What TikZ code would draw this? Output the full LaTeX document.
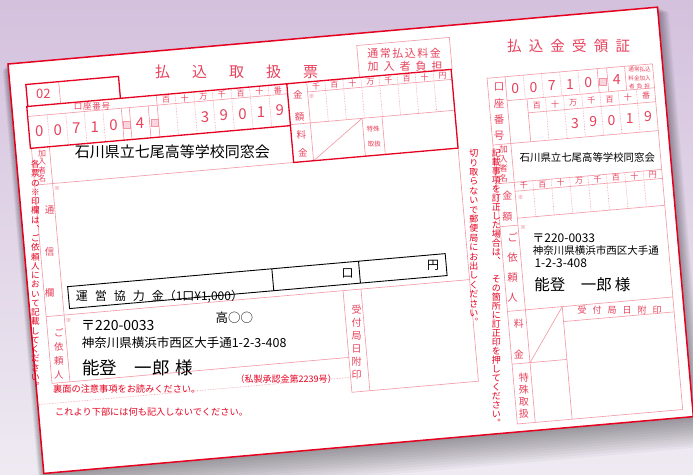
\documentclass[tikz,border=0pt]{standalone}
\usepackage{fontspec}
\setmainfont{Noto Sans CJK JP}
\definecolor{formred}{RGB}{230,0,32}
\definecolor{labred}{RGB}{232,66,92}
\definecolor{linepink}{RGB}{243,150,162}
\definecolor{cellpink}{RGB}{250,212,224}
\definecolor{bgtop}{RGB}{212,193,221}
\definecolor{bgbot}{RGB}{238,234,242}
\newcommand\fsz[1]{\fontsize{#1}{#1}\selectfont}
\def\tatestop{TATESTOP}
\def\tatescan#1{\ifx#1\tatestop\else\hbox to 1em{\hss#1\hss}\expandafter\tatescan\fi}
\newcommand\tategaki[2]{\vbox{\baselineskip=#1\relax\lineskiplimit=-100pt\relax\tatescan#2\tatestop}}
\def\yokoscan#1{\ifx#1\tatestop\else#1\kern\yokogap\relax\expandafter\yokoscan\fi}
\newcommand\yoko[2]{\def\yokogap{#1}\yokoscan#2\tatestop\kern-#1\relax}
\begin{document}
\begin{tikzpicture}
  [x=1pt,y=-1pt,
  lab/.style={text=labred,inner sep=0pt},
  note/.style={text=formred,inner sep=0pt},
  dat/.style={text=black,inner sep=0pt},
  thinline/.style={draw=linepink,line width=0.6pt},
  dotline/.style={draw=linepink,line width=0.6pt,densely dotted},
  boldline/.style={draw=formred,line width=1.3pt},
  cell/.style={fill=cellpink,draw=linepink,line width=0.3pt,minimum size=7pt,inner sep=0pt},
  ]
  \clip (0,0) rectangle (693,474);
  \shade[top color=bgtop,bottom color=bgbot] (0,0) rectangle (693,474);
  \begin{scope}[shift={(8,64)},rotate=5]
    \foreach \s in {1,...,12}
      \fill[black,opacity=0.03] ({-0.5*\s},{0.5*\s}) rectangle ({652+0.9*\s},{411+2.6*\s});
    \fill[white] (0,0) rectangle (652,411);
    \draw[formred,line width=1.5pt] (0,0) rectangle (652,411);

    \draw[thinline] (16,86) -- (16,322) -- (314,322);
    \draw[thinline] (34,86) -- (34,322);
    \draw[thinline] (16,123) -- (276,123);
    \draw[thinline] (16,255) -- (441,255);
    \draw[thinline] (441,123) -- (441,357) -- (314,357) -- (314,255);
    \draw[thinline] (332,255) -- (332,357);
    \draw[dotline] (0,342) -- (314,342);
    \draw[thinline] (349,44) -- (349,12) -- (442,12) -- (442,44);
    \draw[thinline] (49,22) -- (49,44);

    \draw[thinline] (15,54) -- (276,54);
    \foreach \x in {34.6,53.2,71.8,90.4} \draw[dotline] (\x,54) -- (\x,86);
    \foreach \x in {109,117,136} \draw[thinline] (\x,54) -- (\x,86);
    \draw[thinline] (145,44) -- (145,86);
    \foreach \i in {1,...,6} \draw[dotline] ({145+18.71*\i},44) -- ({145+18.71*\i},86);
    \node[cell] (pinkA) at (113,71) {};
    \node[cell] (pinkB) at (140.5,71) {};

    \draw[thinline] (296,44) -- (296,123);
    \draw[thinline] (276,85) -- (441,85);
    \draw[thinline] (296,54) -- (441,54);
    \foreach \i in {1,...,7} \draw[dotline] ({296+18.125*\i},44) -- ({296+18.125*\i},85);
    \draw[thinline] (296,123) -- (348,85);
    \draw[thinline] (348,85) -- (348,123) (368,85) -- (368,123);

    \draw[boldline] (16,44) -- (16,22) -- (109,22) -- (109,44);
    \draw[boldline] (276,86) -- (15,86) -- (15,44) -- (441,44) -- (441,123) -- (276,123) -- (276,44);

    \draw[black,line width=0.9pt] (40,227) rectangle (419,249) (245,227) -- (245,249) (332,227) -- (332,249);

    \draw[thinline] (476,56) rectangle (642,403);
    \draw[thinline] (494,56) -- (494,403);
    \draw[thinline] (476,123) -- (642,123);
    \draw[thinline] (476,162) -- (642,162);
    \draw[thinline] (494,198) -- (642,198);
    \draw[thinline] (476,205) -- (494,205);
    \draw[thinline] (476,290) -- (642,290);
    \draw[thinline] (476,343) -- (531,343);
    \draw[thinline] (531,290) -- (531,403);
    \draw[thinline] (531,305) -- (642,305);
    \draw[thinline] (494,343) -- (531,290);
    \draw[thinline] (494,80) -- (642,80);
    \draw[thinline] (514,94) -- (642,94);
    \foreach \x in {512.3,530.6,548.9,567.2} \draw[dotline] (\x,56) -- (\x,80);
    \foreach \x in {586.5,596,614} \draw[thinline] (\x,56) -- (\x,80);
    \node[cell] (pinkC) at (591.25,69) {};
    \draw[thinline] (514,80) -- (514,123);
    \foreach \i in {1,...,6} \draw[dotline] ({514+18.29*\i},80) -- ({514+18.29*\i},123);
    \draw[thinline] (494,171) -- (642,171);
    \foreach \i in {1,...,7} \draw[dotline] ({494+18.5*\i},162) -- ({494+18.5*\i},198);

    \node[lab,font=\fsz{15}] (title1) at (227,28) {\yoko{22pt}{払込取扱票}};
    \node[lab,font=\fsz{13}] (kubun) at (32.5,33) {02};
    \node[lab,font=\fsz{11}] (futan1) at (395.5,23.5) {\yoko{1.5pt}{通常払込料金}};
    \node[lab,font=\fsz{11}] (futan2) at (395.5,37) {\yoko{5pt}{加入者負担}};
    \node[lab,font=\fsz{8.5}] (koza1) at (80,49.5) {\yoko{0.8pt}{口座番号}};
    \foreach \lbl [count=\i] in {百,十,万,千,百,十,番}
      \node[lab,font=\fsz{8}] (ketaA\i) at ({145+18.71*\i-9.36},49.5) {\lbl};
    \foreach \d/\x [count=\i] in {0/25.3,0/43.9,7/62.5,1/81.1,0/99.7,4/126.5}
      \node[lab,font=\fsz{15}] (kozaA\i) at (\x,70) {\d};
    \foreach \d [count=\i from 3] in {3,9,0,1,9}
      \node[lab,font=\fsz{15}] (kozaB\i) at ({145+18.71*\i-9.36},70) {\d};
    \foreach \c/\y [count=\i] in {金/56,額/78,料/96,金/114}
      \node[lab,font=\fsz{9.5}] (kingakuA\i) at (286,\y) {\c};
    \foreach \lbl [count=\i] in {千,百,十,万,千,百,十,円}
      \node[lab,font=\fsz{8}] (gakuA\i) at ({296+18.125*\i-9.06},49.5) {\lbl};
    \node[lab,font=\fsz{5.5}] (komeA) at (299.5,59) {※};
    \node[lab,font=\fsz{6.5}] (tokuA1) at (358,97) {特殊};
    \node[lab,font=\fsz{6.5}] (tokuA2) at (358,112) {取扱};

    \node[lab,font=\fsz{8}] (kanyu1) at (25,104.5) {\tategaki{8.2pt}{加入者名}};
    \node[dat,font=\fsz{15}] (meigi1) at (156,102) {石川県立七尾高等学校同窓会};
    \node[lab,font=\fsz{9.5}] (tsushin) at (25,190.5) {\tategaki{41.5pt}{通信欄}};
    \node[lab,font=\fsz{5.5}] (komeB) at (38,128) {※};
    \node[dat,font=\fsz{12},anchor=west] (unei) at (47,238) {\yoko{7pt}{運営協力金}（1口¥1,000）};
    \node[dat,font=\fsz{12}] (kuchi) at (320,238) {口};
    \node[dat,font=\fsz{12}] (en1) at (406,238) {円};

    \node[lab,font=\fsz{9.5}] (irai1) at (25.5,293) {\tategaki{14pt}{ご依頼人}};
    \node[lab,font=\fsz{5.5}] (komeC) at (38,261) {※};
    \node[dat,font=\fsz{14},anchor=west] (yubin1) at (50,266.5) {〒220-0033};
    \node[dat,font=\fsz{12.5},anchor=west] (addr1) at (49,284.5) {神奈川県横浜市西区大手通1-2-3-408};
    \node[dat,font=\fsz{12.5},anchor=west] (taka) at (184.5,270.5) {高○○};
    \node[dat,font=\fsz{17.5},anchor=west] (shimei1) at (47.5,309) {能登　一郎\hspace{6pt}様};
    \node[lab,font=\fsz{10}] (uketsuke1) at (323,307.5) {\tategaki{13pt}{受付局日附印}};

    \node[note,font=\fsz{8.6}] (kakuhyo) at (9,212.5) {\tategaki{9.25pt}{各票の※印欄は︑ご依頼人において記載してください︒}};
    \node[note,font=\fsz{9.2},anchor=west] (ura) at (16.5,327.5) {裏面の注意事項をお読みください。};
    \node[note,font=\fsz{9},anchor=west] (shisei) at (199,334) {（私製承認金第2239号）};
    \node[note,font=\fsz{9.2},anchor=west] (kabu) at (16.5,351) {これより下部には何も記入しないでください。};
    \node[note,font=\fsz{9}] (kiritori) at (449,213.5) {\tategaki{9.4pt}{切り取らないで郵便局にお出しください︒}};
    \node[note,font=\fsz{9}] (teisei) at (467,265.5) {\tategaki{9pt}{記載事項を訂正した場合は︑~その箇所に訂正印を押してください︒}};

    \node[lab,font=\fsz{14.5}] (title2) at (560,31) {\yoko{7.2pt}{払込金受領証}};
    \node[lab,font=\fsz{10.5}] (koza2) at (485,90.5) {\tategaki{16.4pt}{口座番号}};
    \foreach \d/\x [count=\i] in {0/503.2,0/521.5,7/539.8,1/558,0/576.4,4/605}
      \node[lab,font=\fsz{14}] (kozaC\i) at (\x,69) {\d};
    \node[lab,font={\fontsize{5.6}{8.3}\selectfont},align=center] (futan3) at (628,69) {通常払込\\料金加入\\\yoko{2pt}{者負担}};
    \foreach \lbl [count=\i] in {百,十,万,千,百,十,番}
      \node[lab,font=\fsz{8}] (ketaB\i) at ({514+18.29*\i-9.14},87.5) {\lbl};
    \foreach \d [count=\i from 3] in {3,9,0,1,9}
      \node[lab,font=\fsz{14}] (kozaD\i) at ({514+18.29*\i-9.14},108.5) {\d};
    \node[lab,font=\fsz{8.5}] (kanyu2) at (485,142.5) {\tategaki{9.5pt}{加入者名}};
    \node[dat,font=\fsz{10.4}] (meigi2) at (569,143.5) {石川県立七尾高等学校同窓会};
    \foreach \lbl [count=\i] in {千,百,十,万,千,百,十,円}
      \node[lab,font=\fsz{8}] (gakuB\i) at ({494+18.5*\i-9.25},166.5) {\lbl};
    \node[lab,font=\fsz{5.5}] (komeD) at (499,178) {※};
    \node[lab,font=\fsz{10}] (kingaku2) at (485,185) {\tategaki{21.5pt}{金額}};
    \node[lab,font=\fsz{10.5}] (irai2) at (485,247) {\tategaki{20pt}{ご依頼人}};
    \node[lab,font=\fsz{5.5}] (komeE) at (499,208) {※};
    \node[dat,font=\fsz{12},anchor=west] (yubin2) at (507,219) {〒220-0033};
    \node[dat,font=\fsz{10.5},anchor=west] (addr2) at (506.5,231.5) {神奈川県横浜市西区大手通};
    \node[dat,font=\fsz{12},anchor=west] (banchi2) at (507,244.5) {1-2-3-408};
    \node[dat,font=\fsz{15.5},anchor=west] (shimei2) at (505,266) {能登　一郎\hspace{3pt}様};
    \node[lab,font=\fsz{10}] (ryokin2) at (485,318.5) {\tategaki{31pt}{料金}};
    \node[lab,font=\fsz{10}] (tokushu2) at (485,375) {\tategaki{12pt}{特殊取扱}};
    \node[lab,font=\fsz{9}] (uketsuke2) at (588,298) {\yoko{6pt}{受付局日附印}};
  \end{scope}
\end{tikzpicture}
\end{document}
